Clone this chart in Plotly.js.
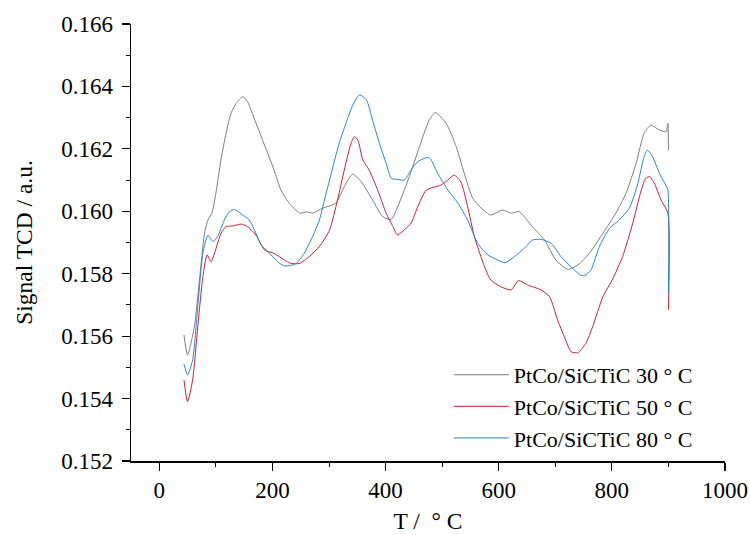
<!DOCTYPE html>
<html>
<head>
<meta charset="utf-8">
<script src="https://cdn.plot.ly/plotly-3.0.1.min.js"></script>
<style>html,body{margin:0;padding:0;background:#fff;}#chart{width:750px;height:535px;}</style>
</head>
<body>
<div id="chart"></div>
<script>
// Series names
const seriesNames = ["PtCo/SiCTiC 30 ° C", "PtCo/SiCTiC 50 ° C", "PtCo/SiCTiC 80 ° C"];
const seriesColors = ["#7d7d7d", "#cc1f2f", "#2b83d6"];

// PtCo/SiCTiC 30 °C
const tGray = [43.6,50,62,71,80,86,93,100,109,118,127,136,148,156,171,186,203,215,228,248,260,271,289,312,327,342,357,377,395,410,424,442,460,477,488,507,525,539,554,569,586,607,622,636,657,681,701,722,740,760,784,807,825,843,857,869,884,896,899,900];
const sGray = [0.15604,0.15540,0.15630,0.15780,0.15930,0.15972,0.15994,0.16058,0.16164,0.16250,0.16315,0.16346,0.16367,0.16351,0.16282,0.16212,0.16132,0.16068,0.16030,0.15994,0.15998,0.15994,0.16010,0.16026,0.16079,0.16119,0.16095,0.16036,0.15983,0.15974,0.16026,0.16111,0.16207,0.16292,0.16316,0.16282,0.16207,0.16122,0.16042,0.16010,0.15988,0.16004,0.15994,0.15999,0.15956,0.15908,0.15844,0.15814,0.15828,0.15865,0.15929,0.15994,0.16058,0.16154,0.16250,0.16276,0.16260,0.16255,0.16282,0.16196];

// PtCo/SiCTiC 50 °C
const tRed = [43.6,50,59,68,77,84.5,91.5,98.6,109,118,130,145,156,171,186,203,221,233,248,265,283,301,315,327,339,345,351,360,371,386,401,413,421,433,445,457,472,489,498,510,521,533,545,557,575,586,604,622,635,651,675,690,704,716,728,740,754,766,784,802,819,837,852,860,867,875,887,899,900];
const sRed = [0.15460,0.15390,0.15460,0.15630,0.15790,0.15860,0.15838,0.15871,0.15929,0.15951,0.15953,0.15959,0.15951,0.15924,0.15876,0.15865,0.15844,0.15833,0.15833,0.15855,0.15887,0.15940,0.16036,0.16132,0.16218,0.16239,0.16228,0.16164,0.16132,0.16068,0.15994,0.15951,0.15924,0.15940,0.15962,0.16015,0.16068,0.16079,0.16084,0.16100,0.16116,0.16095,0.16015,0.15919,0.15822,0.15780,0.15758,0.15748,0.15778,0.15764,0.15748,0.15726,0.15652,0.15598,0.15550,0.15547,0.15577,0.15630,0.15726,0.15785,0.15855,0.15962,0.16068,0.16106,0.16111,0.16090,0.16036,0.15994,0.15684];

// PtCo/SiCTiC 80 °C
const tBlue = [43.6,50,59,68,77,86,94.6,103,115,124,133,145,159,171,180,192,209,221,235,242,256,271,283,295,307,318,330,342,354,366,377,389,401,410,422,433,445,457,475,480,492,510,528,545,563,581,598,611,628,645,660,675,693,710,728,745,752,763,778,796,813,831,846,857,863,872,884,896,899,900];
const sBlue = [0.15511,0.15476,0.15524,0.15694,0.15865,0.15923,0.15903,0.15919,0.15972,0.15999,0.16006,0.15991,0.15972,0.15929,0.15892,0.15871,0.15839,0.15825,0.15828,0.15833,0.15865,0.15919,0.15972,0.16058,0.16143,0.16218,0.16282,0.16340,0.16373,0.16357,0.16292,0.16218,0.16154,0.16106,0.16102,0.16100,0.16132,0.16159,0.16173,0.16166,0.16122,0.16068,0.16026,0.15972,0.15897,0.15860,0.15844,0.15835,0.15855,0.15881,0.15908,0.15910,0.15897,0.15855,0.15822,0.15795,0.15794,0.15812,0.15887,0.15946,0.15972,0.16010,0.16090,0.16175,0.16196,0.16175,0.16122,0.16081,0.16070,0.15738];

const xRange = [-50, 1000];
const yRange = [0.152, 0.166];
const xTitle = "T /  ° C";
const yTitle = "Signal TCD / a.u.";

const fontFam = "Liberation Serif";
const xs = [tGray, tRed, tBlue];
const ys = [sGray, sRed, sBlue];
const traces = xs.map((x, i) => ({
  type: "scatter", mode: "lines", x: x, y: ys[i], name: seriesNames[i],
  line: {color: seriesColors[i], width: 1, shape: "spline", smoothing: 0.6}
}));

const axCommon = {
  showgrid: false, zeroline: false, showline: true, linecolor: "#000", linewidth: 1.5,
  ticks: "outside", ticklen: 8, tickwidth: 1.2, tickcolor: "#000",
  tickfont: {family: fontFam, size: 23, color: "#000"}
};

const layout = {
  width: 750, height: 535,
  margin: {l: 131, r: 25, t: 24, b: 74},
  paper_bgcolor: "#fff", plot_bgcolor: "#fff",
  font: {family: fontFam, color: "#000"},
  showlegend: true,
  legend: {x: 0.535, y: 0.245, xanchor: "left", yanchor: "top", bgcolor: "rgba(0,0,0,0)",
    font: {family: fontFam, size: 22, color: "#000"}, itemwidth: 55, tracegroupgap: 0},
  xaxis: Object.assign({}, axCommon, {
    range: xRange, tickvals: [0,200,400,600,800,1000], ticktext: ["0","200","400","600","800","1000"],
    minor: {dtick: 100, tick0: 0, ticks: "outside", ticklen: 4, tickcolor: "#000", tickwidth: 1},
    title: {text: xTitle, font: {family: fontFam, size: 23.5, color: "#000"}, standoff: 10}
  }),
  yaxis: Object.assign({}, axCommon, {
    range: yRange, dtick: 0.002, tick0: 0.152, tickformat: ".3f", ticklabelstandoff: 4,
    minor: {dtick: 0.001, ticks: "outside", ticklen: 4, tickcolor: "#000", tickwidth: 1},
    title: {text: yTitle, font: {family: fontFam, size: 23.5, color: "#000"}, standoff: 22}
  }),
  xaxis2: {
    overlaying: "x", side: "top", anchor: "y", range: xRange, showgrid: false, zeroline: false,
    showline: true, linecolor: "#000", linewidth: 1.5, ticks: "inside", ticklen: 6, tickcolor: "#000",
    dtick: 200, tick0: 0, showticklabels: false,
    minor: {dtick: 100, tick0: 0, ticks: "inside", ticklen: 3, tickcolor: "#000"}
  },
  yaxis2: {
    overlaying: "y", side: "right", anchor: "x", range: yRange, showgrid: false, zeroline: false,
    showline: true, linecolor: "#000", linewidth: 1.5, ticks: "inside", ticklen: 6, tickcolor: "#000",
    dtick: 0.002, tick0: 0.152, showticklabels: false,
    minor: {dtick: 0.001, ticks: "inside", ticklen: 3, tickcolor: "#000"}
  }
};

Plotly.newPlot("chart", traces, layout, {staticPlot: true, displayModeBar: false});
</script>
</body>
</html>
